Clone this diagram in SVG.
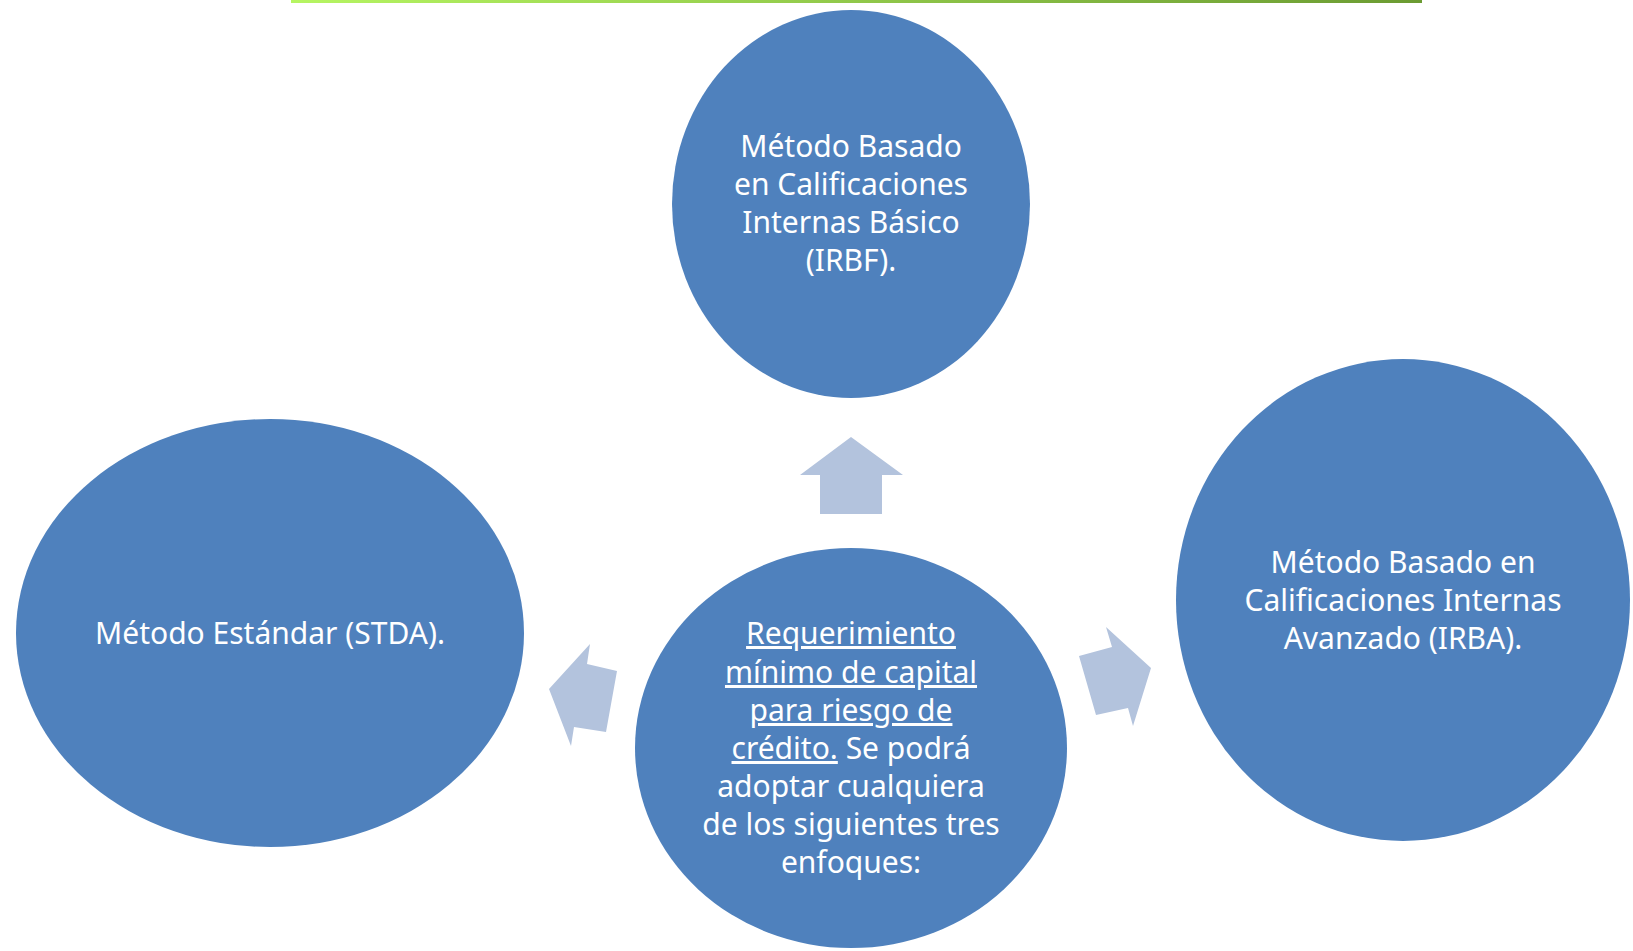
<svg xmlns="http://www.w3.org/2000/svg" width="1633" height="951" viewBox="0 0 1633 951">
<defs>
<linearGradient id="gl" x1="0" x2="1" y1="0" y2="0">
<stop offset="0" stop-color="#b6f562"/>
<stop offset="1" stop-color="#6b9b32"/>
</linearGradient>
<style>
.n{fill:#4f81bd;}
.a{fill:#b3c3dd;}
.t{font-family:"Noto Sans","Open Sans",sans-serif;font-size:30px;fill:#ffffff;text-anchor:middle;}
.u{text-decoration:underline;}
</style>
</defs>
<rect width="1633" height="951" fill="#ffffff"/>
<rect x="291" y="0" width="1131" height="3" fill="url(#gl)"/>
<g id="connectors">
<polygon class="a" points="851,437 903,475 882,475 882,514 820,514 820,475 800,475"/>
<polygon class="a" points="549,689 590,644 587,664 617,671 606,732 574,727 571,746"/>
<polygon class="a" points="1151,668 1106,627 1112,647 1079,656 1096,715 1128,708 1133,726"/>
</g>
<g id="node-top">
<ellipse class="n" cx="851" cy="204" rx="179" ry="194"/>
<text class="t"><tspan x="851" y="157">Método Basado</tspan><tspan x="851" y="195">en Calificaciones</tspan><tspan x="851" y="233">Internas Básico</tspan><tspan x="851" y="271">(IRBF).</tspan></text>
</g>
<g id="node-left">
<ellipse class="n" cx="270" cy="633" rx="254" ry="214"/>
<text class="t" x="270" y="644">Método Estándar (STDA).</text>
</g>
<g id="node-right">
<ellipse class="n" cx="1403" cy="600" rx="227" ry="241"/>
<text class="t"><tspan x="1403" y="573">Método Basado en</tspan><tspan x="1403" y="611">Calificaciones Internas</tspan><tspan x="1403" y="649">Avanzado (IRBA).</tspan></text>
</g>
<g id="node-center">
<ellipse class="n" cx="851" cy="748" rx="216" ry="200"/>
<text class="t"><tspan x="851" y="644" class="u">Requerimiento</tspan><tspan x="851" y="683" class="u">mínimo de capital</tspan><tspan x="851" y="721" class="u">para riesgo de</tspan><tspan x="851" y="759"><tspan class="u">crédito.</tspan> Se podrá</tspan><tspan x="851" y="797">adoptar cualquiera</tspan><tspan x="851" y="835">de los siguientes tres</tspan><tspan x="851" y="873">enfoques:</tspan></text>
</g>
</svg>
